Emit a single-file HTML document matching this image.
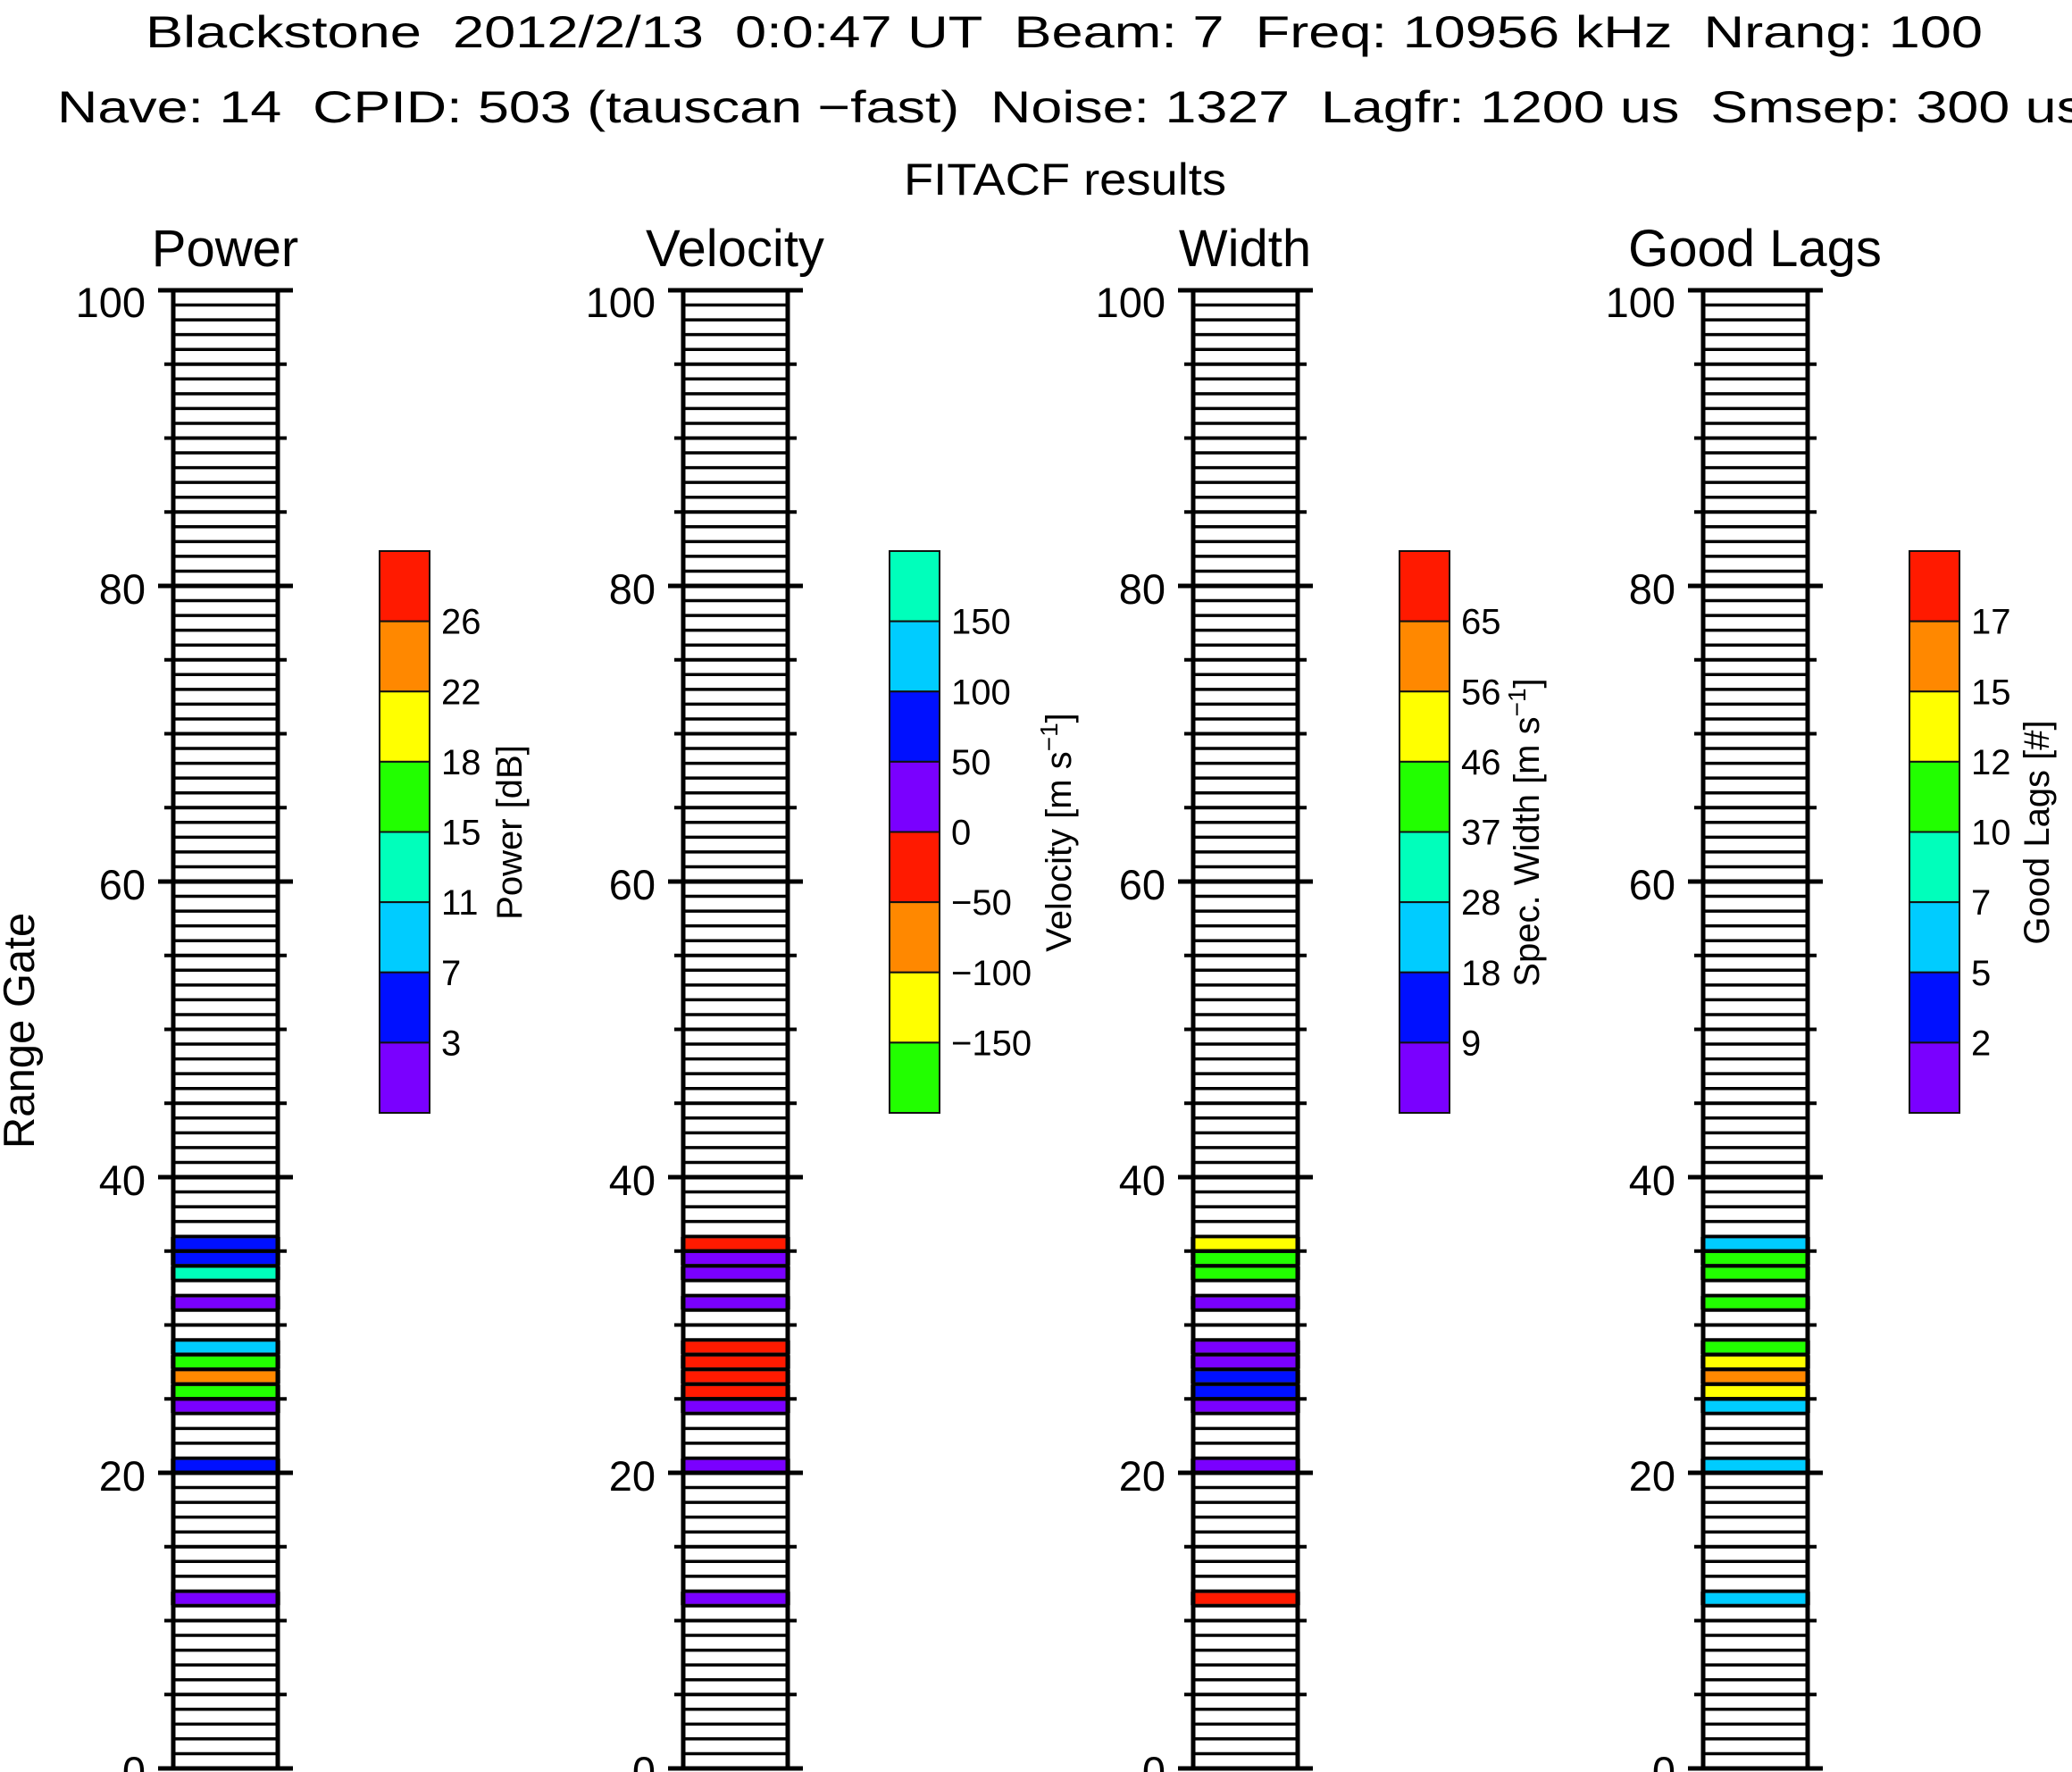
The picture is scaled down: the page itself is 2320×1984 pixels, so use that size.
<!DOCTYPE html>
<html><head><meta charset="utf-8"><style>html,body{margin:0;padding:0;background:#fff}svg{display:block}</style></head>
<body>
<svg id="s" xmlns="http://www.w3.org/2000/svg" width="2320" height="1984" viewBox="0 0 2320 1984" font-family="Liberation Sans, sans-serif">
<rect width="2320" height="1984" fill="#fff"/>
<text x="163" y="53" font-size="50" textLength="2057" lengthAdjust="spacingAndGlyphs">Blackstone&#160;&#160;2012/2/13&#160;&#160;0:0:47 UT&#160;&#160;Beam: 7&#160;&#160;Freq: 10956 kHz&#160;&#160;Nrang: 100</text>
<text x="64" y="137" font-size="50" textLength="2270" lengthAdjust="spacingAndGlyphs">Nave: 14&#160;&#160;CPID: 503 (tauscan −fast)&#160;&#160;Noise: 1327&#160;&#160;Lagfr: 1200 us&#160;&#160;Smsep: 300 us</text>
<text x="1012" y="218" font-size="50" textLength="361" lengthAdjust="spacingAndGlyphs">FITACF results</text>
<text transform="translate(38,1154) rotate(-90)" font-size="49" text-anchor="middle">Range Gate</text>
<g id="g"></g>
</svg>
<script>
const C={p:'#7a00ff',b:'#0010ff',c:'#00ccff',t:'#00ffbb',g:'#22ff00',y:'#ffff00',o:'#ff8800',r:'#ff1a00'};
const panels=[
 {x:194,lx:3,title:'Power',cb:['r','o','y','g','t','c','b','p'],labs:['26','22','18','15','11','7','3'],
  lab:'Power [dB]',data:{11:'p',20:'b',24:'p',25:'g',26:'o',27:'g',28:'c',31:'p',33:'t',34:'b',35:'b'}},
 {x:765,lx:47,title:'Velocity',cb:['t','c','b','p','r','o','y','g'],labs:['150','100','50','0','−50','−100','−150'],
  lab:'Velocity [m s<tspan baseline-shift="super" font-size="28">−1</tspan>]',data:{11:'p',20:'p',24:'p',25:'r',26:'r',27:'r',28:'r',31:'p',33:'p',34:'p',35:'r'}},
 {x:1336,lx:0,title:'Width',cb:['r','o','y','g','t','c','b','p'],labs:['65','56','46','37','28','18','9'],
  lab:'Spec. Width [m s<tspan baseline-shift="super" font-size="28">−1</tspan>]',data:{11:'r',20:'p',24:'p',25:'b',26:'b',27:'p',28:'p',31:'p',33:'g',34:'g',35:'y'}},
 {x:1907,lx:0,title:'Good Lags',cb:['r','o','y','g','t','c','b','p'],labs:['17','15','12','10','7','5','2'],
  lab:'Good Lags [#]',data:{11:'c',20:'c',24:'c',25:'y',26:'o',27:'y',28:'g',31:'g',33:'g',34:'g',35:'c'}}
];
const T=325,B=1980,H=(B-T)/100;let s='';
for(const P of panels){
 const L=P.x,R=P.x+117;
 s+=`<text x="${L+58}" y="298" font-size="58" text-anchor="middle">${P.title}</text>`;
 for(let g=0;g<100;g++){
  const y0=B-(g+1)*H;
  if(P.data[g]) s+=`<rect x="${L-2}" y="${y0+1.5}" width="${R-L+4}" height="${H-3}" fill="${C[P.data[g]]}" stroke="#222" stroke-width="1.5"/>`;
 }
 for(let g=1;g<100;g++){const y=B-g*H;s+=`<line x1="${L}" x2="${R}" y1="${y}" y2="${y}" stroke="#000" stroke-width="3.5"/>`;}
 s+=`<line x1="${L}" x2="${L}" y1="${T}" y2="${B}" stroke="#000" stroke-width="5"/><line x1="${R}" x2="${R}" y1="${T}" y2="${B}" stroke="#000" stroke-width="5"/>`;
 for(let g=0;g<=100;g+=5){const y=B-g*H;const maj=g%20==0;const e=maj?17:10;
  s+=`<line x1="${L-e}" x2="${R+e}" y1="${y}" y2="${y}" stroke="#000" stroke-width="${maj?5:4}"/>`;
  if(maj) s+=`<text x="${L-31}" y="${y+(g==100?30:20)}" font-size="47" text-anchor="end">${g}</text>`;}
 const cx=L+231,seg=(1246-617)/8;
 P.cb.forEach((c,i)=>{s+=`<rect x="${cx}" y="${617+i*seg}" width="56" height="${seg}" fill="${C[c]}" stroke="#111" stroke-width="2"/>`;});
 P.labs.forEach((t,i)=>{s+=`<text x="${cx+69}" y="${617+(i+1)*seg+14}" font-size="40">${t}</text>`;});
 s+=`<text transform="translate(${cx+156+P.lx},932) rotate(-90)" font-size="40" text-anchor="middle">${P.lab}</text>`;
}
document.getElementById('g').innerHTML=s;
</script>
</body></html>
